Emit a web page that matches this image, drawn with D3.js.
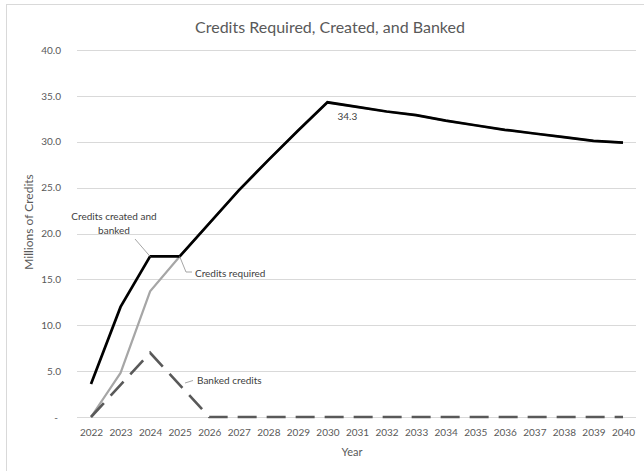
<!DOCTYPE html>
<html>
<head>
<meta charset="utf-8">
<script src="https://cdn.jsdelivr.net/npm/d3@7"></script>
<style>
  html, body { margin: 0; padding: 0; background: #fff; }
  svg { display: block; font-family: Lato, "Open Sans", sans-serif; }
</style>
</head>
<body>
<svg id="chart" width="644" height="471"></svg>
<script>
const years = [2022,2023,2024,2025,2026,2027,2028,2029,2030,2031,2032,2033,2034,2035,2036,2037,2038,2039,2040];
const createdBanked = [3.6,12.0,17.5,17.5,21.1,24.7,28.0,31.2,34.3,33.8,33.3,32.9,32.3,31.8,31.3,30.9,30.5,30.1,29.9];
const required = [0,4.8,13.7,17.5,21.1,24.7,28.0,31.2,34.3,33.8,33.3,32.9,32.3,31.8,31.3,30.9,30.5,30.1,29.9];
const banked = [0,3.5,7.0,3.5,0,0,0,0,0,0,0,0,0,0,0,0,0,0,0];
const yTicks = [0,5,10,15,20,25,30,35,40];

const svg = d3.select("#chart");
const plot = {left: 77, right: 636, top: 50, bottom: 417};

// chart frame
svg.append("rect").attr("x", 6.5).attr("y", 4.5).attr("width", 660).attr("height", 500)
  .attr("fill", "none").attr("stroke", "#d9d9d9").attr("stroke-width", 1);

const x = d3.scalePoint().domain(years).range([91, 623]);
const y = d3.scaleLinear().domain([0, 40]).range([plot.bottom, plot.top]);

// gridlines
svg.append("g").selectAll("line").data(yTicks).join("line")
  .attr("x1", plot.left).attr("x2", plot.right)
  .attr("y1", d => Math.round(y(d)) + 0.5).attr("y2", d => Math.round(y(d)) + 0.5)
  .attr("stroke", "#d9d9d9").attr("stroke-width", 1);

// y axis labels
const yAxis = d3.axisLeft(y).tickValues(yTicks).tickSize(0).tickPadding(0)
  .tickFormat(d => d === 0 ? "-" : d3.format(".1f")(d));
const gy = svg.append("g").attr("transform", "translate(61,0)").call(yAxis);
gy.select(".domain").remove();
gy.selectAll("text").attr("fill", "#595959").attr("font-size", 10).attr("font-family", "Lato, sans-serif")
  .attr("dx", d => d === 0 ? -3 : 0);

// x axis labels
const xAxis = d3.axisBottom(x).tickSize(0).tickPadding(0).tickFormat(d3.format("d"));
const gx = svg.append("g").attr("transform", "translate(0,429)").call(xAxis);
gx.select(".domain").remove();
gx.selectAll("text").attr("fill", "#595959").attr("font-size", 10).attr("font-family", "Lato, sans-serif");

const line = d3.line().x((d, i) => x(years[i])).y(d => y(d));

// series
svg.append("path").datum(required).attr("d", line)
  .attr("fill", "none").attr("stroke", "#a6a6a6").attr("stroke-width", 2.2);
svg.append("path").datum(banked).attr("d", line)
  .attr("fill", "none").attr("stroke", "#595959").attr("stroke-width", 2.6)
  .attr("stroke-dasharray", "19,10");
svg.append("path").datum(createdBanked).attr("d", line)
  .attr("fill", "none").attr("stroke", "#000").attr("stroke-width", 2.7)
  .attr("stroke-linejoin", "miter");

// title
svg.append("text").attr("x", 330).attr("y", 33).attr("text-anchor", "middle")
  .attr("fill", "#595959").attr("font-size", 16).text("Credits Required, Created, and Banked");

// axis titles
svg.append("text").attr("x", 352).attr("y", 456).attr("text-anchor", "middle")
  .attr("fill", "#595959").attr("font-size", 11).text("Year");
svg.append("text").attr("transform", "translate(33,222) rotate(-90)").attr("text-anchor", "middle")
  .attr("fill", "#595959").attr("font-size", 12).text("Millions of Credits");

// data label
const peakIdx = years.indexOf(2030);
svg.append("text").attr("x", x(2030) + 10).attr("y", y(createdBanked[peakIdx]) + 18)
  .attr("fill", "#404040").attr("font-size", 10).text(d3.format(".1f")(createdBanked[peakIdx]));

// annotations
const ann = svg.append("g").attr("fill", "#404040").attr("font-size", 10);
ann.append("text").attr("x", 114).attr("y", 220).attr("text-anchor", "middle").text("Credits created and");
ann.append("text").attr("x", 114).attr("y", 234).attr("text-anchor", "middle").text("banked");
svg.append("line").attr("x1", 135).attr("y1", 239).attr("x2", x(2024)).attr("y2", y(17.5))
  .attr("stroke", "#a6a6a6").attr("stroke-width", 1);

ann.append("text").attr("x", 195).attr("y", 277).text("Credits required");
svg.append("polyline").attr("points", `${x(2025)},${y(17.5)} 186,272 192,272`)
  .attr("fill", "none").attr("stroke", "#a6a6a6").attr("stroke-width", 1);

ann.append("text").attr("x", 197).attr("y", 384).text("Banked credits");
svg.append("line").attr("x1", 185).attr("y1", 383).attr("x2", 193).attr("y2", 380.5)
  .attr("stroke", "#a6a6a6").attr("stroke-width", 1);
</script>
</body>
</html>
